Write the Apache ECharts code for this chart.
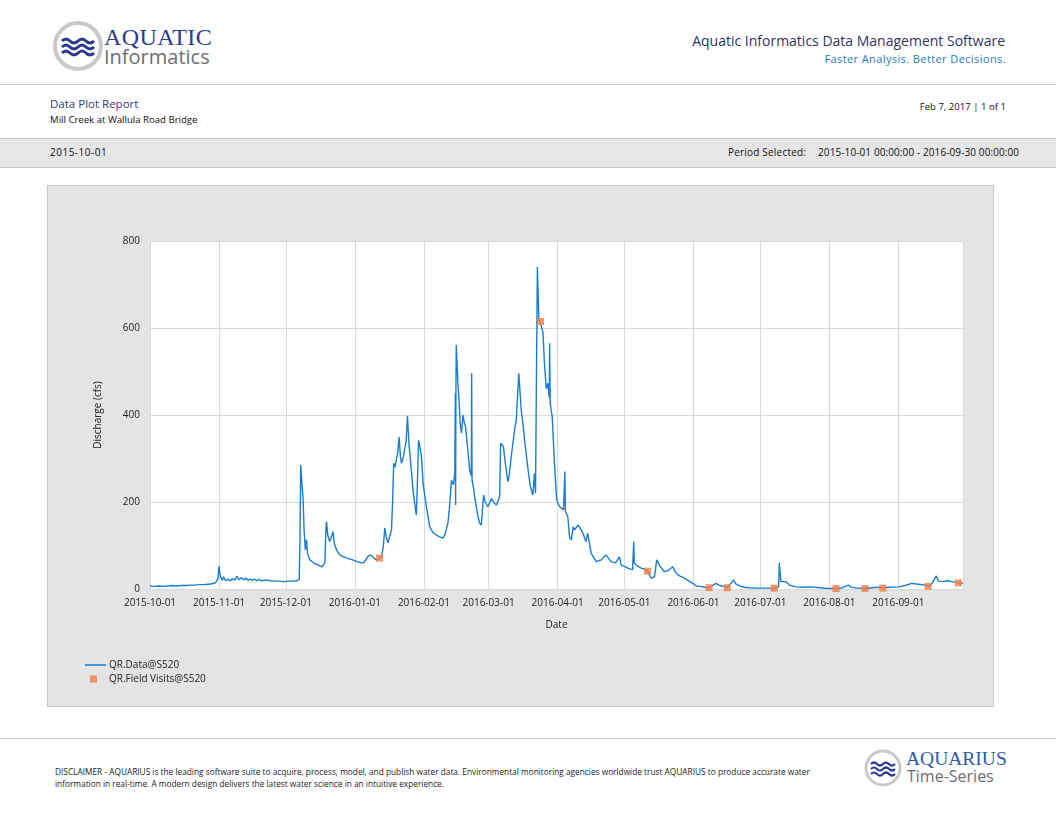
<!DOCTYPE html>
<html>
<head>
<meta charset="utf-8">
<script src="https://cdn.jsdelivr.net/npm/echarts@6/dist/echarts.min.js"></script>
<style>
  html, body { margin: 0; padding: 0; background: #fff; }
  body { width: 1056px; height: 816px; position: relative; overflow: hidden; font-family: "Open Sans", sans-serif; }
  .abs { position: absolute; white-space: nowrap; }
  .rule { position: absolute; left: 0; width: 1056px; height: 1px; background: #c8c8c8; }
  #band { position: absolute; left: 0; top: 138px; width: 1056px; height: 30px; background: #e6e6e6; border-top: 1px solid #c8c8c8; border-bottom: 1px solid #c8c8c8; box-sizing: border-box; }
  #diagram { position: absolute; left: 48px; top: 186px; width: 945px; height: 520px; background: #e4e4e4; outline: 1px solid #c8c8c8; }
</style>
</head>
<body>

<!-- header -->
<svg class="abs" style="left:52px;top:20px" width="54" height="54" viewBox="0 0 54 54">
  <circle cx="26" cy="26" r="23" fill="#fff" stroke="#c9c9c9" stroke-width="4"/>
  <path d="M10 21 q4 -4 8 0 t8 0 t8 0 t8 0" fill="none" stroke="#2b3990" stroke-width="3"/>
  <path d="M10 27 q4 -4 8 0 t8 0 t8 0 t8 0" fill="none" stroke="#2b3990" stroke-width="3"/>
  <path d="M10 33 q4 -4 8 0 t8 0 t8 0 t8 0" fill="none" stroke="#2b3990" stroke-width="3"/>
</svg>
<div class="abs" style="left:104px;top:24px;font-family:'Liberation Serif',serif;font-size:24px;color:#2e3b8f;letter-spacing:0.4px">AQUATIC</div>
<div class="abs" style="left:104px;top:43px;font-size:20px;color:#6e6e6e">Informatics</div>

<div class="abs" style="right:51px;top:31px;font-size:14px;color:#2c3565">Aquatic Informatics Data Management Software</div>
<div class="abs" style="right:50px;top:51px;font-size:11px;color:#1c7dbf;letter-spacing:0.4px">Faster Analysis. Better Decisions.</div>
<div class="rule" style="top:84px"></div>

<div class="abs" style="left:50px;top:96px;font-size:11.5px;color:#2f3c73">Data Plot Report</div>
<div class="abs" style="left:50px;top:113px;font-size:9.6px;color:#111">Mill Creek at Wallula Road Bridge</div>
<div class="abs" style="right:50px;top:100px;font-size:9.6px;color:#111">Feb 7, 2017 | 1 of 1</div>

<div id="band"></div>
<div class="abs" style="left:50px;top:145px;font-size:10px;letter-spacing:0.5px;color:#111">2015-10-01</div>
<div class="abs" style="left:728px;top:145px;font-size:10px;letter-spacing:0.2px;color:#111">Period Selected:</div>
<div class="abs" style="left:818px;top:145px;font-size:10px;letter-spacing:0.1px;color:#111">2015-10-01 00:00:00 - 2016-09-30 00:00:00</div>

<div id="diagram"></div>

<!-- footer -->
<div class="rule" style="top:738px"></div>
<div class="abs" style="left:55px;top:766px;font-size:8.3px;line-height:12px;color:#222">DISCLAIMER - AQUARIUS is the leading software suite to acquire, process, model, and publish water data. Environmental monitoring agencies worldwide trust AQUARIUS to produce accurate water<br>information in real-time. A modern design delivers the latest water science in an intuitive experience.</div>
<svg class="abs" style="left:863px;top:748px" width="40" height="40" viewBox="0 0 40 40">
  <circle cx="20" cy="20" r="17" fill="#fff" stroke="#c9c9c9" stroke-width="3"/>
  <path d="M8 16 q3 -3 6 0 t6 0 t6 0 t6 0" fill="none" stroke="#2b3990" stroke-width="2.2"/>
  <path d="M8 21 q3 -3 6 0 t6 0 t6 0 t6 0" fill="none" stroke="#2b3990" stroke-width="2.2"/>
  <path d="M8 26 q3 -3 6 0 t6 0 t6 0 t6 0" fill="none" stroke="#2b3990" stroke-width="2.2"/>
</svg>
<div class="abs" style="left:906px;top:748px;font-family:'Liberation Serif',serif;font-size:19.5px;color:#2e5aa8">AQUARIUS</div>
<div class="abs" style="left:907px;top:765px;font-size:16px;color:#6e6e6e">Time-Series</div>

<script>
// discharge record QR.Data@S520 (cfs)
var flowPoints = [
  ['2015-10-01',7],['2015-10-03',6],['2015-10-05',7],['2015-10-07',6],['2015-10-09',7],['2015-10-11',8],
  ['2015-10-13',7],['2015-10-15',8],['2015-10-17',8],['2015-10-19',9],['2015-10-21',9],['2015-10-23',10],
  ['2015-10-25',10],['2015-10-27',11],['2015-10-29',12],['2015-10-30 12:00',15],['2015-10-31 12:00',24],
  ['2015-11-01 00:00',52],['2015-11-01 08:00',36],['2015-11-01 20:00',26],['2015-11-02 12:00',20],
  ['2015-11-03',28],['2015-11-04',19],['2015-11-05',23],['2015-11-06',18],['2015-11-07',24],['2015-11-08',20],
  ['2015-11-09',29],['2015-11-10',21],['2015-11-11',26],['2015-11-12',21],['2015-11-13',25],['2015-11-14',20],
  ['2015-11-15',23],['2015-11-16',20],['2015-11-17',23],['2015-11-18',19],['2015-11-19',22],['2015-11-20',19],
  ['2015-11-22',21],['2015-11-24',19],['2015-11-26',18],['2015-11-28',18],['2015-11-30',17],['2015-12-02',18],
  ['2015-12-04',18],['2015-12-06',19],['2015-12-07 00:00',22],['2015-12-07 08:00',120],['2015-12-07 16:00',285],
  ['2015-12-08 06:00',240],['2015-12-08 18:00',205],['2015-12-09 04:00',136],['2015-12-09 18:00',90],
  ['2015-12-10 06:00',113],['2015-12-10 18:00',81],['2015-12-11 18:00',67],['2015-12-13',62],['2015-12-14',58],
  ['2015-12-15',56],['2015-12-16',54],['2015-12-17 06:00',51],['2015-12-18 12:00',60],['2015-12-19 00:00',140],
  ['2015-12-19 06:00',155],['2015-12-19 18:00',125],['2015-12-20 16:00',109],['2015-12-21 12:00',120],
  ['2015-12-22 04:00',132],['2015-12-22 18:00',104],['2015-12-23 18:00',90],['2015-12-25 06:00',78],
  ['2015-12-27',74],['2015-12-29',70],['2015-12-31',67],['2016-01-02',63],['2016-01-04',60],['2016-01-05',61],
  ['2016-01-06',68],['2016-01-07',76],['2016-01-08',78],['2016-01-09',74],['2016-01-10',69],['2016-01-11',67],
  ['2016-01-12',70],['2016-01-13',76],['2016-01-13 18:00',98],['2016-01-14 10:00',140],['2016-01-15 04:00',118],
  ['2016-01-15 20:00',106],['2016-01-16 12:00',120],['2016-01-17 10:00',136],['2016-01-17 22:00',200],
  ['2016-01-18 10:00',289],['2016-01-19 00:00',280],['2016-01-19 14:00',296],['2016-01-20 06:00',315],
  ['2016-01-20 20:00',350],['2016-01-21 10:00',305],['2016-01-21 22:00',289],['2016-01-22 14:00',300],
  ['2016-01-23 08:00',304],['2016-01-24 00:00',340],['2016-01-24 14:00',398],['2016-01-25 08:00',330],
  ['2016-01-26 08:00',273],['2016-01-27 00:00',230],['2016-01-27 20:00',197],['2016-01-28 14:00',170],
  ['2016-01-29 02:00',250],['2016-01-29 14:00',342],['2016-01-30 06:00',325],['2016-01-30 20:00',304],
  ['2016-01-31 16:00',240],['2016-02-02 02:00',189],['2016-02-03 14:00',143],['2016-02-05',130],
  ['2016-02-06 14:00',124],['2016-02-08',120],['2016-02-09 12:00',117],['2016-02-10 12:00',126],
  ['2016-02-11 18:00',152],['2016-02-12 12:00',190],['2016-02-13 08:00',250],['2016-02-14 06:00',240],
  ['2016-02-14 20:00',266],['2016-02-15 02:00',450],['2016-02-15 05:00',193],['2016-02-15 08:00',446],
  ['2016-02-15 12:00',561],['2016-02-16 06:00',470],['2016-02-16 16:00',442],['2016-02-17 06:00',380],
  ['2016-02-17 20:00',358],['2016-02-18 12:00',400],['2016-02-19 04:00',381],['2016-02-19 16:00',373],
  ['2016-02-20 12:00',330],['2016-02-21 12:00',273],['2016-02-22 06:00',260],['2016-02-22 10:00',496],
  ['2016-02-22 14:00',250],['2016-02-23 04:00',235],['2016-02-23 18:00',212],['2016-02-24 12:00',189],
  ['2016-02-25 06:00',166],['2016-02-26 00:00',152],['2016-02-26 18:00',147],['2016-02-27 06:00',150],
  ['2016-02-27 18:00',216],['2016-02-28 12:00',200],['2016-02-29 16:00',189],['2016-03-01 06:00',195],
  ['2016-03-02 06:00',208],['2016-03-03 12:00',198],['2016-03-04 12:00',193],['2016-03-05 12:00',205],
  ['2016-03-06 00:00',215],['2016-03-06 10:00',335],['2016-03-07 16:00',327],['2016-03-08 12:00',290],
  ['2016-03-09 16:00',247],['2016-03-10 06:00',260],['2016-03-11 04:00',304],['2016-03-12 16:00',365],
  ['2016-03-13 10:00',388],['2016-03-14 14:00',496],['2016-03-15 16:00',411],['2016-03-16 10:00',381],
  ['2016-03-17 04:00',342],['2016-03-18 14:00',281],['2016-03-19 14:00',240],['2016-03-20 04:00',228],
  ['2016-03-20 22:00',216],['2016-03-21 14:00',266],['2016-03-22 02:00',220],['2016-03-22 10:00',442],
  ['2016-03-22 22:00',741],['2016-03-23 14:00',618],['2016-03-24 08:00',611],['2016-03-25 10:00',590],
  ['2016-03-26 02:00',519],['2016-03-26 22:00',460],['2016-03-27 14:00',473],['2016-03-28 06:00',440],
  ['2016-03-28 10:00',565],['2016-03-28 16:00',427],['2016-03-29 14:00',396],['2016-03-30 14:00',289],
  ['2016-03-31 14:00',205],['2016-04-01 04:00',197],['2016-04-01 22:00',189],['2016-04-03 16:00',182],
  ['2016-04-04 06:00',270],['2016-04-04 12:00',178],['2016-04-05 14:00',166],['2016-04-06 08:00',120],
  ['2016-04-07 04:00',113],['2016-04-08 00:00',143],['2016-04-08 16:00',136],['2016-04-10 02:00',147],
  ['2016-04-11 04:00',140],['2016-04-12 08:00',128],['2016-04-13 18:00',109],['2016-04-14 12:00',128],
  ['2016-04-16 02:00',82],['2016-04-18 08:00',63],['2016-04-20 14:00',67],['2016-04-22 18:00',78],
  ['2016-04-25',63],['2016-04-27',60],['2016-04-28 18:00',74],['2016-04-29 12:00',55],['2016-05-01',52],
  ['2016-05-02 12:00',48],['2016-05-04 16:00',44],['2016-05-05 04:00',109],['2016-05-05 10:00',60],
  ['2016-05-06 06:00',55],['2016-05-08 12:00',48],['2016-05-10',46],['2016-05-11 08:00',41],
  ['2016-05-13 00:00',25],['2016-05-14 12:00',28],['2016-05-15 12:00',67],['2016-05-16 16:00',55],
  ['2016-05-18 20:00',40],['2016-05-20 12:00',42],['2016-05-22 16:00',51],['2016-05-24',38],
  ['2016-05-25 16:00',30],['2016-05-28',25],['2016-05-30',18],['2016-06-01',12],['2016-06-02 06:00',7],
  ['2016-06-04',6],['2016-06-06',4],['2016-06-08',3],['2016-06-09',6],['2016-06-11',13],['2016-06-12 12:00',9],
  ['2016-06-14',7],['2016-06-16 04:00',3],['2016-06-17',6],['2016-06-19',21],['2016-06-20',12],
  ['2016-06-21 16:00',7],['2016-06-24',4],['2016-06-26',3],['2016-06-30',2],['2016-07-03',2],
  ['2016-07-07 06:00',2],['2016-07-09 06:00',5],['2016-07-09 12:00',60],['2016-07-10 06:00',17],
  ['2016-07-11',14],['2016-07-12 12:00',17],['2016-07-14',9],['2016-07-17',5],['2016-07-20',4],['2016-07-24',5],
  ['2016-07-28',3],['2016-07-31',1],['2016-08-04',1],['2016-08-07',3],['2016-08-09 12:00',9],
  ['2016-08-10 12:00',5],['2016-08-13',2],['2016-08-15',2],['2016-08-17',1],['2016-08-20',3],['2016-08-23',4],
  ['2016-08-25',3],['2016-08-28',4],['2016-09-01',5],['2016-09-04',8],['2016-09-07',13],['2016-09-10',11],
  ['2016-09-13',9],['2016-09-14 08:00',6],['2016-09-16',12],['2016-09-18',30],['2016-09-19',18],
  ['2016-09-21',17],['2016-09-23',19],['2016-09-25',17],['2016-09-28',14],['2016-09-30',13]
];

// field visit measurements QR.Field Visits@S520
var visitDates = ['2016-01-12 02:00','2016-03-24 08:00','2016-05-11 08:00','2016-06-08','2016-06-16 04:00',
  '2016-07-07 06:00','2016-08-04','2016-08-17','2016-08-25','2016-09-14 08:00','2016-09-27 22:00'];
var visitValues = [71, 615, 41, 3, 3, 2, 1, 1, 2, 6, 14];

var periodStart = '2015-10-01';
var periodEnd = '2016-09-30';
var yTicks = { min: 0, max: 800, step: 200 };

var visitPoints = visitDates.map(function (d, i) { return [d, visitValues[i]]; });

var myChart = echarts.init(document.getElementById('diagram'));

var labelFont = { fontFamily: 'Open Sans', fontSize: 10, color: '#222' };

var option = {
  animation: false,
  backgroundColor: 'transparent',
  grid: {
    left: 102, right: 30, top: 55, bottom: 117,
    show: true, backgroundColor: '#ffffff', borderWidth: 0
  },
  legend: [{
    left: 32, top: 469, orient: 'vertical',
    itemWidth: 21, itemHeight: 1.5,
    textStyle: { fontFamily: 'Open Sans', fontSize: 10, color: '#222', padding: [0, 0, 0, -2] },
    data: [{ name: 'QR.Data@S520', icon: 'rect' }]
  }, {
    left: 37, top: 483, orient: 'vertical',
    itemWidth: 7, itemHeight: 7,
    textStyle: { fontFamily: 'Open Sans', fontSize: 10, color: '#222', padding: [0, 0, 0, 7] },
    data: [{ name: 'QR.Field Visits@S520', icon: 'rect' }]
  }],
  xAxis: {
    type: 'time',
    min: periodStart,
    max: periodEnd,
    splitNumber: 12,
    name: 'Date',
    nameLocation: 'middle',
    nameGap: 31,
    nameTextStyle: labelFont,
    axisLine: { show: false },
    axisTick: { show: false },
    axisLabel: Object.assign({ formatter: '{yyyy}-{MM}-{dd}', margin: 9, hideOverlap: false }, labelFont),
    splitLine: { show: true, lineStyle: { color: '#d9d9d9', width: 1 } }
  },
  yAxis: {
    type: 'value',
    min: yTicks.min,
    max: yTicks.max,
    interval: yTicks.step,
    name: 'Discharge (cfs)',
    nameLocation: 'middle',
    nameGap: 47,
    nameTextStyle: labelFont,
    axisLine: { show: false },
    axisTick: { show: false },
    axisLabel: Object.assign({ margin: 10 }, labelFont),
    splitLine: { show: true, lineStyle: { color: '#d9d9d9', width: 1 } }
  },
  series: [{
    name: 'QR.Data@S520',
    type: 'line',
    data: flowPoints,
    showSymbol: false,
    symbol: 'none',
    color: '#1a7dcf',
    lineStyle: { width: 1.4, color: '#1a7dcf' },
    z: 2
  }, {
    name: 'QR.Field Visits@S520',
    type: 'scatter',
    data: visitPoints,
    symbol: 'rect',
    symbolSize: 7,
    itemStyle: { color: '#f47d45' },
    z: 3
  }]
};

myChart.setOption(option);
</script>
</body>
</html>
